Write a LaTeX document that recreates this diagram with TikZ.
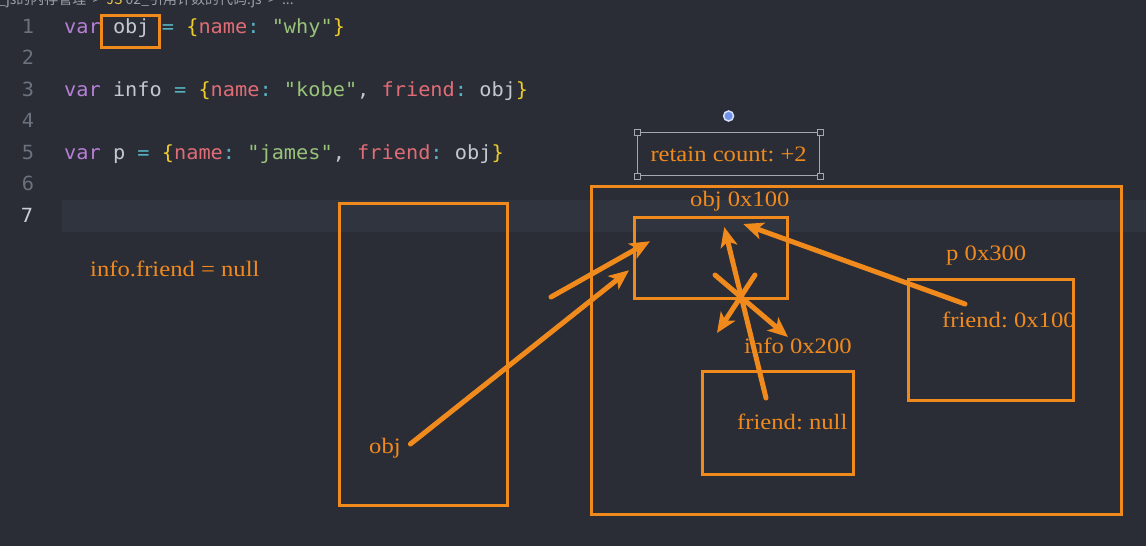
\documentclass[tikz,border=0pt]{standalone}
\usepackage{fontspec}
\setmainfont{Liberation Serif}
\newfontfamily\codefont{DejaVu Sans Mono}[FakeStretch=1.04]
\newfontfamily\cjkfont{Noto Sans CJK SC}
\newfontfamily\drawfont{Liberation Serif}[FakeStretch=1.12]
\usetikzlibrary{arrows.meta,calc}
\frenchspacing

\definecolor{editorbg}{HTML}{2A2D36}
\definecolor{curline}{HTML}{30343E}
\definecolor{linenum}{HTML}{6B717D}
\definecolor{curno}{HTML}{C9CDD5}
\definecolor{jspurple}{HTML}{B77FD6}
\definecolor{jsident}{HTML}{C3C8D0}
\definecolor{jsteal}{HTML}{56B4C0}
\definecolor{jsbrace}{HTML}{EFCB2A}
\definecolor{jskeyred}{HTML}{E06C75}
\definecolor{jsgreen}{HTML}{98C379}
\definecolor{crumbgrey}{HTML}{9A9FA8}
\definecolor{jsyellow}{HTML}{E8C547}
\definecolor{heaporange}{HTML}{F08A1D}
\definecolor{selgrey}{HTML}{A3A8B0}
\definecolor{rotblue}{HTML}{6F93E8}

% syntax colours of the editor
\newcommand{\jskw}[1]{\textcolor{jspurple}{#1}}
\newcommand{\jsid}[1]{\textcolor{jsident}{#1}}
\newcommand{\jsop}[1]{\textcolor{jsteal}{#1}}
\newcommand{\jsbr}[1]{\textcolor{jsbrace}{#1}}
\newcommand{\jskey}[1]{\textcolor{jskeyred}{#1}}
\newcommand{\jsstr}[1]{\textcolor{jsgreen}{#1}}

\tikzstyle{codeln}=[font=\codefont\fontsize{19.5}{23}\selectfont,anchor=base west,inner sep=0pt]
\tikzstyle{lineno}=[font=\codefont\fontsize{19.5}{23}\selectfont,text=linenum,anchor=base,inner sep=0pt]
\tikzstyle{crumb}=[font=\cjkfont\fontsize{14}{16}\selectfont,text=crumbgrey,anchor=base west,inner sep=0pt]
\tikzstyle{memblk}=[draw=heaporange,line width=2.5pt,anchor=north west,inner sep=0pt]
\tikzstyle{memtxt}=[text=heaporange,font=\drawfont\fontsize{22}{26}\selectfont,anchor=base west,inner sep=0pt]
\tikzstyle{retainbox}=[draw=selgrey,line width=1.2pt,anchor=north west,text=heaporange,
font=\drawfont\fontsize{22}{26}\selectfont,inner sep=0pt]
\tikzstyle{handle}=[draw=selgrey,fill=editorbg,line width=1pt,minimum size=6pt,inner sep=0pt]
\tikzstyle{rothandle}=[circle,fill=rotblue,draw=white!70!rotblue,line width=1.5pt,minimum size=10pt,inner sep=0pt]
\tikzstyle{ref}=[draw=heaporange,line width=5pt,line cap=round,
-{Stealth[length=20pt,width=17pt,inset=5pt]}]

\begin{document}
\begin{tikzpicture}[x=1pt,y=-1pt]
\useasboundingbox (0,0) rectangle (1146,546);
\clip (0,0) rectangle (1146,546);
\fill[editorbg] (0,0) rectangle (1146,546);
\fill[curline] (62,200) rectangle (1146,232);

% editor
\node[crumb] (crumb) at (-2,5) {\_js的内存管理 \ > \ \textcolor{jsyellow}{JS} 02\_引用计数的代码.js \ > \ ...};
\foreach \n in {1,...,6}
  \node[lineno] (ln\n) at (28,{33+(\n-1)*31.5}) {\n};
\node[lineno,text=curno] (ln7) at (27,222) {7};

\node[codeln] (code1) at (64,33) {\jskw{var} \jsid{obj} \jsop{=} \jsbr{\{}\jskey{name}\jsop{:} \jsstr{"why"}\jsbr{\}}};
\node[codeln] (code3) at (64,96) {\jskw{var} \jsid{info} \jsop{=} \jsbr{\{}\jskey{name}\jsop{:} \jsstr{"kobe"}\jsid{,} \jskey{friend}\jsop{:} \jsid{obj}\jsbr{\}}};
\node[codeln] (code5) at (64,159) {\jskw{var} \jsid{p} \jsop{=} \jsbr{\{}\jskey{name}\jsop{:} \jsstr{"james"}\jsid{,} \jskey{friend}\jsop{:} \jsid{obj}\jsbr{\}}};
\node[memblk,line width=3pt,minimum width=58,minimum height=32] (objhl) at (100,14) {};

% memory
\node[memblk,minimum width=168,minimum height=302] (stack) at (338,202) {};
\node[memblk,minimum width=530,minimum height=328] (heap) at (590,185) {};
\node[memblk,minimum width=153,minimum height=81] (objbox) at (633,216) {};
\node[memblk,minimum width=151,minimum height=103] (infobox) at (701,370) {};
\node[memblk,minimum width=165,minimum height=121] (pbox) at (907,278) {};

\node[memtxt] (note) at (90,276) {info.friend = null};
\node[memtxt] (objvar) at (369,453) {obj};
\node[memtxt] (objaddr) at (690,206) {obj 0x100};
\node[memtxt] (infoaddr) at (744,353) {info 0x200};
\node[memtxt] (paddr) at (946,260) {p 0x300};
\node[memtxt] (infofriend) at (737,429) {friend: null};
\node[memtxt] (pfriend) at (942,327) {friend: 0x100};

\node[retainbox,minimum width=182,minimum height=43] (retain) at (637,132) {retain count: +2};
\foreach \c in {north west,north east,south west,south east}
  \node[handle] at (retain.\c) {};
\node[rothandle] (rot) at ([yshift=16pt]retain.north) {};

% references
\coordinate (loose) at (551,297);
\coordinate (cross) at (737,293);
\draw[ref] ($(objvar.base east)+(9.5,-9)$) -- ($(objbox.west)+(-4,12.5)$);
\draw[ref] (loose) -- ($(objbox.west)+(17,-16.5)$);
\draw[ref] ($(infofriend.base west)+(29,-31)$) -- ($(objbox.north)+(13.5,11)$);
\draw[ref] ($(pfriend.base west)+(23,-23)$) -- ($(objbox.north)+(32.5,8)$);
\draw[ref] ($(cross)+(-22,-18)$) -- ($(cross)+(51,44)$);
\draw[ref] ($(cross)+(18,-18)$) -- ($(cross)+(-20,40)$);
\end{tikzpicture}
\end{document}
